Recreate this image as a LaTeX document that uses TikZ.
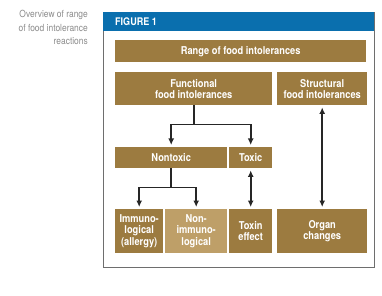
\documentclass[tikz,border=0pt]{standalone}
\usepackage{fontspec}
\setmainfont{TeX Gyre Heros}[FakeStretch=0.86]
\usetikzlibrary{arrows.meta,positioning}
\definecolor{gold}{HTML}{9C7B40}
\definecolor{paleGold}{HTML}{BE9F68}
\definecolor{figblue}{HTML}{0A6FAE}
\definecolor{frameGray}{HTML}{6E6E6E}
\definecolor{capGray}{HTML}{8C8C8C}

\begin{document}
\begin{tikzpicture}[x=1pt,y=-1pt,>={Latex[length=6.5pt,width=6pt]},
  box/.style={fill=gold,text=white,font=\bfseries\fontsize{10.8}{11.2}\selectfont,align=center,anchor=north west,inner sep=0pt},
  flow/.style={->,line width=1.6pt,black!85,shorten >=2pt},
  twoway/.style={<->,line width=1.6pt,black!85,shorten >=2pt,shorten <=2pt}]
\useasboundingbox (0,0) rectangle (382,296);
% caption and frame
\node[anchor=north east,align=right,text=capGray,inner sep=0pt,font=\fontsize{9.8}{13.5}\selectfont] (caption) at (88,10) {Overview of range\\of food intolerance\\reactions};
\draw[frameGray,line width=0.8pt] (103,12) rectangle (374,267);
\fill[figblue] (103,12) rectangle (374,31);
\node[anchor=west,text=white,inner sep=0pt,font=\bfseries\fontsize{10.5}{11}\selectfont] (title) at (115,21.5) {FIGURE 1};
% boxes
\node[box,minimum width=251pt,minimum height=22pt] (range) at (115,40) {Range of food intolerances};
\node[box,minimum width=157pt,minimum height=33pt] (func) at (115,72) {Functional\\food intolerances};
\node[box,minimum width=90pt,minimum height=33pt] (struct) at (277,72) {Structural\\food intolerances};
\node[box,minimum width=112pt,minimum height=21pt] (nontox) at (115,147) {Nontoxic};
\node[box,minimum width=43pt,minimum height=21pt] (toxic) at (229,147) {Toxic};
\node[box,minimum width=48pt,minimum height=44pt] (immuno) at (115,209) {Immuno-\\logical\\(allergy)};
\node[box,fill=paleGold,minimum width=62pt,minimum height=44pt] (nonimmuno) at (165,209) {Non-\\immuno-\\logical};
\node[box,minimum width=43pt,minimum height=44pt] (toxin) at (229,209) {Toxin\\effect};
\node[box,minimum width=90pt,minimum height=44pt] (organ) at (277,209) {Organ\\changes};
% connectors
\draw[flow] (func.south) -- ++(0,19) -| (nontox.north);
\draw[flow] (func.south) -- ++(0,19) -| (toxic.north);
\draw[flow] (nontox.south) -- ++(0,19) -| (immuno.north);
\draw[flow] (nontox.south) -- ++(0,19) -| (nonimmuno.north);
\draw[twoway] (toxic.south) -- (toxin.north);
\draw[twoway] (struct.south) -- (organ.north);
\end{tikzpicture}
\end{document}
